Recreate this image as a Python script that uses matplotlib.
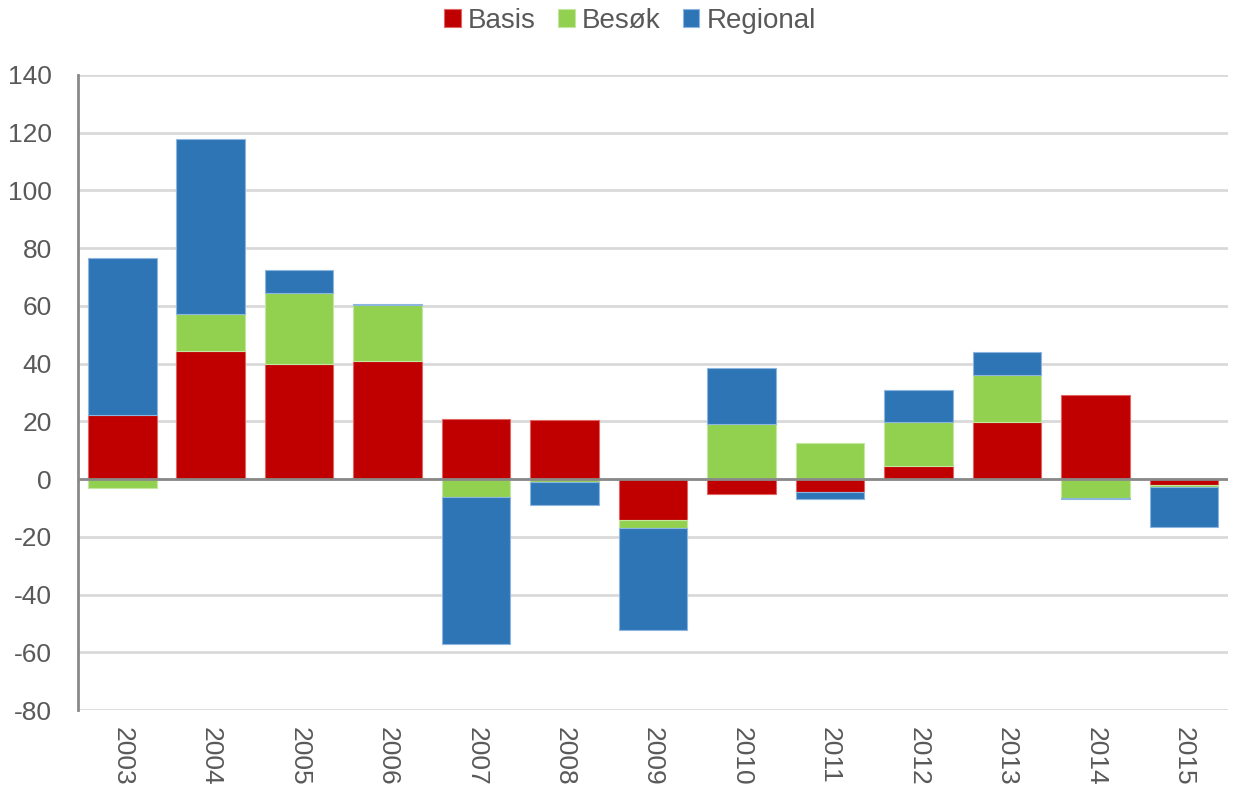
import numpy as np
import matplotlib
matplotlib.use('Agg')
import matplotlib.pyplot as plt

plt.rcParams['font.family'] = ['Liberation Sans', 'DejaVu Sans']
plt.rcParams['axes.unicode_minus'] = False

years = ['2003', '2004', '2005', '2006', '2007', '2008', '2009',
         '2010', '2011', '2012', '2013', '2014', '2015']
basis = [22.2, 44.3, 40.0, 40.9, 20.7, 20.3, -14.1, -5.3, -4.5, 4.7, 19.9, 29.1, -2.1]
besok = [-3.0, 12.9, 24.3, 19.5, -6.1, -0.9, -2.9, 19.2, 12.6, 15.2, 16.0, -6.5, -0.8]
regional = [54.4, 60.6, 8.0, 0.3, -51.2, -8.1, -35.3, 19.4, -2.3, 10.8, 8.1, -0.3, -13.8]

series = [('Basis', basis, '#C00000', '#E06666'),
          ('Besøk', besok, '#92D050', '#C4E6A0'),
          ('Regional', regional, '#2E75B6', '#8DB6DE')]

fig = plt.figure(figsize=(12.33, 7.91), dpi=100)
ax = fig.add_axes([0.0633, 0.1024, 0.9327, 0.8028])

x = np.arange(len(years))
pos_base = np.zeros(len(years))
neg_base = np.zeros(len(years))
for name, vals, col, edge in series:
    v = np.array(vals)
    bottoms = np.where(v >= 0, pos_base, neg_base)
    ax.bar(x, v, width=0.775, bottom=bottoms, color=col, edgecolor=edge,
           linewidth=0.8, label=name, zorder=3)
    pos_base = pos_base + np.where(v >= 0, v, 0)
    neg_base = neg_base + np.where(v < 0, v, 0)

ax.set_xlim(-0.5, len(years) - 0.5)
ax.set_ylim(-80, 140)
ax.set_yticks(np.arange(-80, 141, 20))
ax.set_xticks(x)
ax.set_xticklabels(years, rotation=-90)
ax.tick_params(axis='both', length=0, labelsize=19, colors='#595959')
ax.tick_params(axis='x', pad=12)
ax.tick_params(axis='y', pad=19)

ax.yaxis.grid(True, color='#D9D9D9', linewidth=2, zorder=0)
ax.axhline(0, color='#898989', linewidth=2, zorder=4)
for s in ['top', 'right', 'bottom']:
    ax.spines[s].set_visible(False)
ax.spines['left'].set_color('#898989')
ax.spines['left'].set_linewidth(2)

fig.legend(loc='center', bbox_to_anchor=(0.511, 0.974), ncol=3,
           frameon=False, fontsize=20, labelcolor='#595959',
           handlelength=0.6, handleheight=0.6, handletextpad=0.25,
           columnspacing=0.8)

fig.savefig('out.png', dpi=100)
